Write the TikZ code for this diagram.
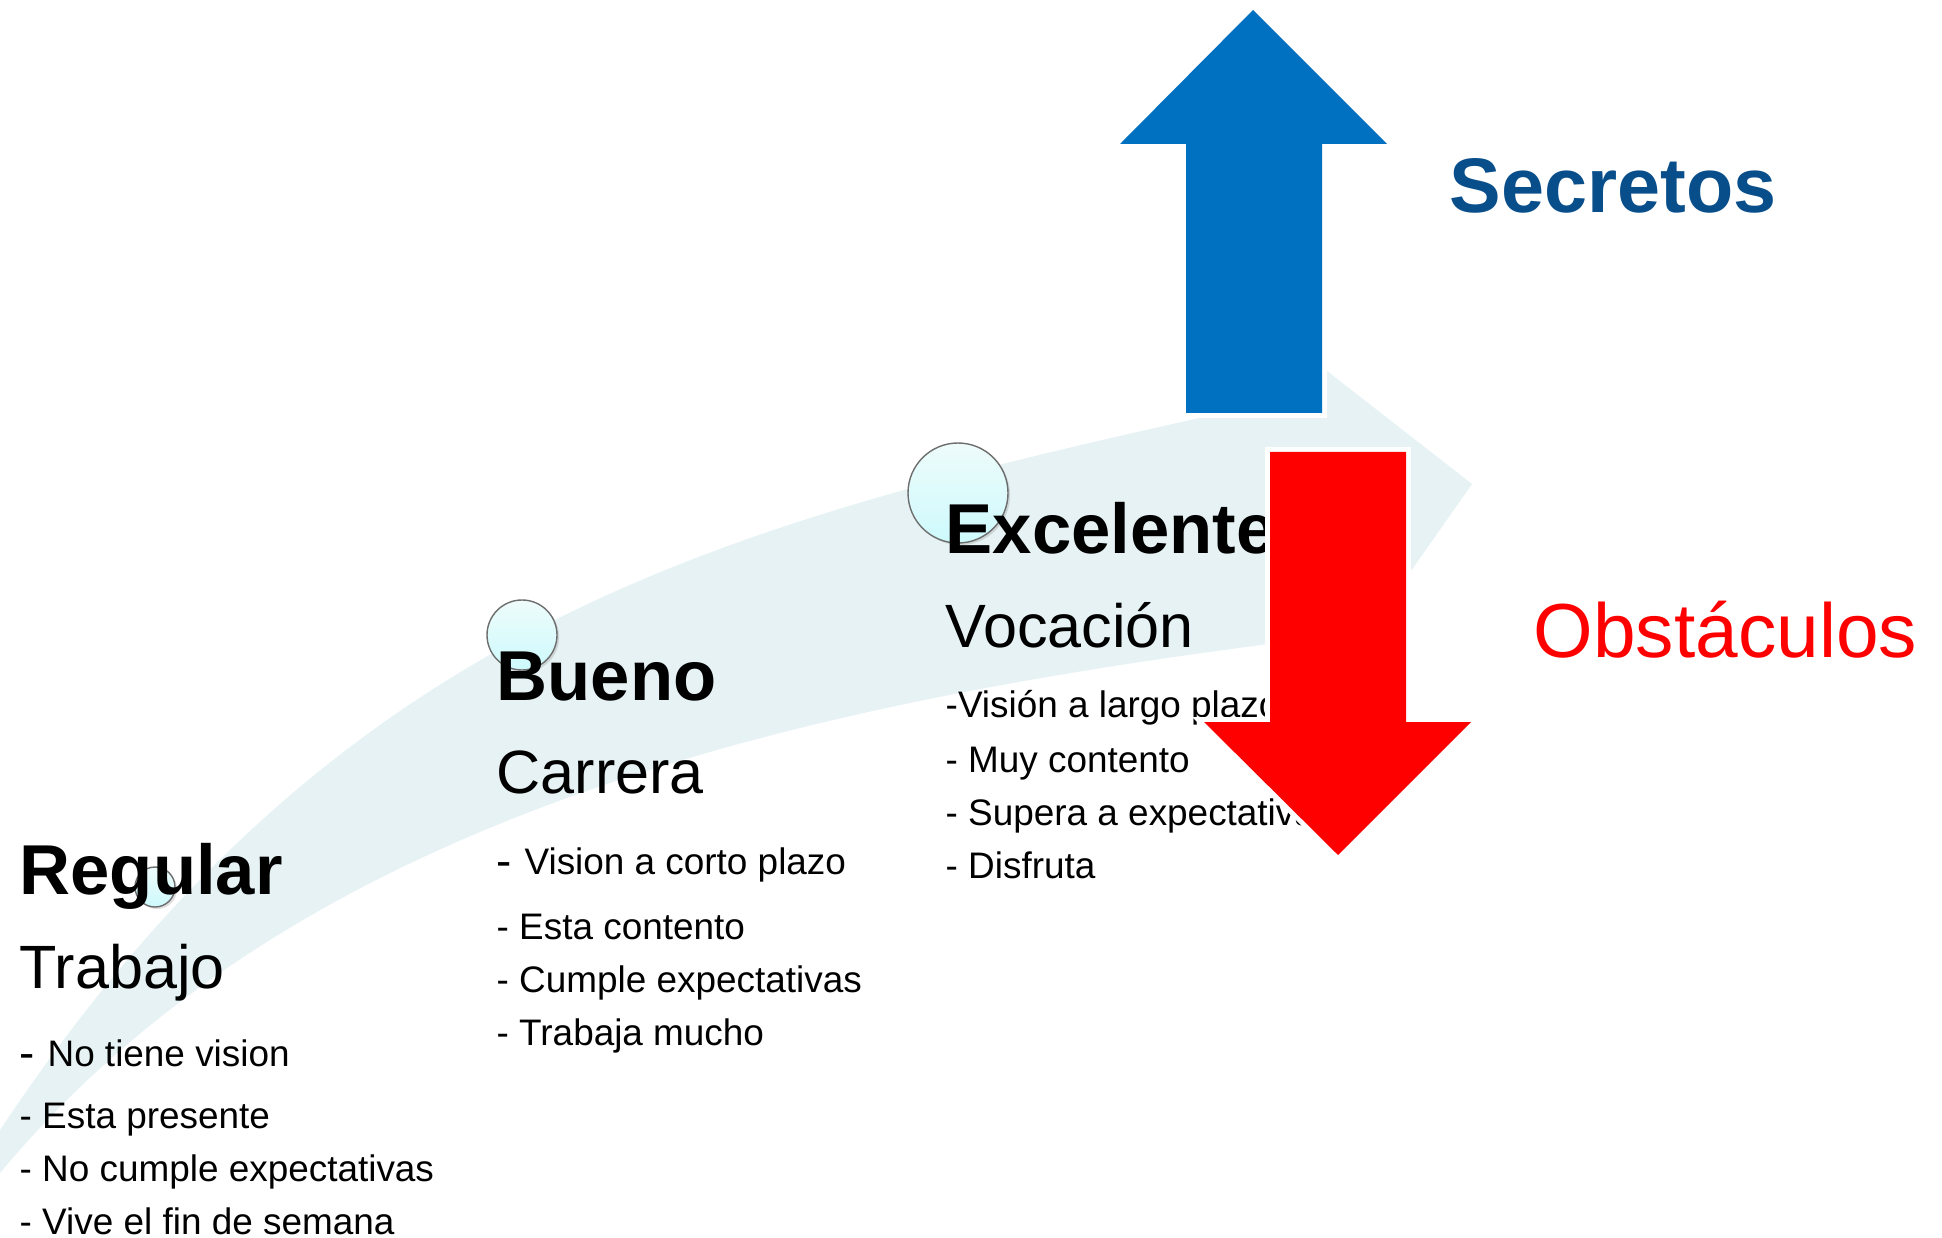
\documentclass[tikz,border=0pt]{standalone}
\usepackage{fontspec}
\setmainfont{Liberation Sans}
\usetikzlibrary{shadows}
\definecolor{bandcol}{RGB}{230,242,244}
\definecolor{arrowblue}{RGB}{0,112,192}
\definecolor{secretblue}{RGB}{8,78,138}
\definecolor{ballgray}{RGB}{110,110,110}
\definecolor{balltop}{RGB}{238,251,251}
\definecolor{ballbot}{RGB}{205,250,252}
\newcommand{\firstdash}{{\fontsize{13}{13}\selectfont\raisebox{-0.6pt}{-}\ }}
\tikzset{
  level/.style={anchor=base west, inner sep=0pt, font=\bfseries\fontsize{20.1}{24}\selectfont},
  kind/.style={anchor=base west, inner sep=0pt, font=\fontsize{17.4}{20}\selectfont},
  item/.style={anchor=base west, inner sep=0pt, font=\fontsize{10.5}{13}\selectfont},
  ball/.style={circle, inner sep=0pt, draw=ballgray, line width=0.4pt, top color=balltop, bottom color=ballbot,
    drop shadow={opacity=0.25, shadow xshift=0.6pt, shadow yshift=-0.6pt}},
  bigarrow/.style={preaction={draw=white, line width=2.8pt}}
}

\begin{document}
\begin{tikzpicture}[x=0.1mm, y=-0.1mm]
            \useasboundingbox (0,0) rectangle (1942,1238);
            \fill[bandcol] (0,1130) .. controls (350,605) and (740,519) .. (1290,398) -- (1300,350) -- (1472,484)
                -- (1380,615) -- (1300,640) .. controls (800,703) and (300,813) .. (0,1173) -- cycle;
            \node[ball, minimum size=4mm] (ballreg) at (155,887) {};
            \node[ball, minimum size=7mm] (ballbue) at (522,635) {};
            \node[ball, minimum size=10mm] (ballexc) at (958,493) {};
            \node[level] (regular) at (19,894) {Regular};
            \node[kind] (trabajo) at (19,988) {Trabajo};
            \node[item] (reg1) at (19,1066) {\firstdash No tiene vision};
            \node[item] (reg2) at (19,1128) {- Esta presente};
            \node[item] (reg3) at (19,1181) {- No cumple expectativas};
            \node[item] (reg4) at (19,1234) {- Vive el fin de semana};
            \node[level] (bueno) at (496,700) {Bueno};
            \node[kind] (carrera) at (496,793) {Carrera};
            \node[item] (bue1) at (496,874) {\firstdash Vision a corto plazo};
            \node[item] (bue2) at (496,939) {- Esta contento};
            \node[item] (bue3) at (496,992) {- Cumple expectativas};
            \node[item] (bue4) at (496,1045) {- Trabaja mucho};
            \node[level] (excelente) at (945,553) {Excelente};
            \node[kind] (vocacion) at (945,647) {Vocación};
            \node[item] (exc1) at (945,717) {-Visión a largo plazo};
            \node[item] (exc2) at (945,772) {- Muy contento};
            \node[item] (exc3) at (945,825) {- Supera a expectativas};
            \node[item] (exc4) at (945,878) {- Disfruta};
            \fill[arrowblue, bigarrow] (1186,413) -- (1186,144) -- (1120,144) -- (1253,10) -- (1387,144) -- (1322,144) -- (1322,413) -- cycle;
            \fill[red, bigarrow] (1270,452) -- (1406,452) -- (1406,722) -- (1471,722) -- (1338,855) -- (1204,722) -- (1270,722) -- cycle;
            \node[anchor=base west, inner sep=0pt, text=secretblue, font=\bfseries\fontsize{22}{26}\selectfont] (secretos) at (1449,213) {Secretos};
            \node[anchor=base west, inner sep=0pt, text=red, font=\fontsize{21.8}{26}\selectfont] (obstaculos) at (1533,657) {Obstáculos};
          \end{tikzpicture}
\end{document}
